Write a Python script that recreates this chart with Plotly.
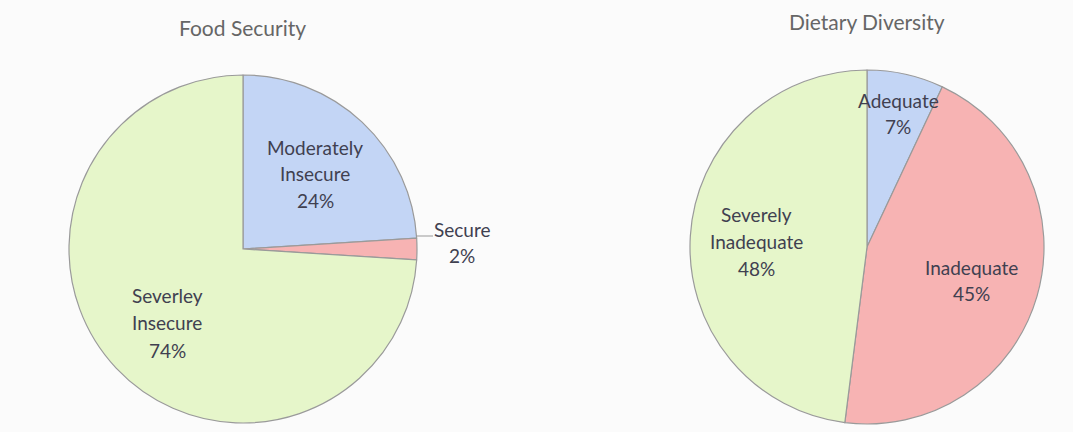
import plotly.graph_objects as go

# Data
fs_title = "Food Security"
fs_labels = ["Moderately Insecure", "Secure", "Severley Insecure"]
fs_label_lines = [["Moderately", "Insecure"], ["Secure"], ["Severley", "Insecure"]]
fs_values = [24, 2, 74]

dd_title = "Dietary Diversity"
dd_labels = ["Adequate", "Inadequate", "Severely Inadequate"]
dd_label_lines = [["Adequate"], ["Inadequate"], ["Severely", "Inadequate"]]
dd_values = [7, 45, 48]

W, H = 1073, 432
blue = "#c3d5f5"
pink = "#f7b3b3"
green = "#e6f6ca"
line_col = "#9a9a9a"

def px(x):
    return x / W

def py(y):
    return 1 - y / H

fig = go.Figure()
fig.add_trace(go.Pie(
    labels=fs_labels, values=fs_values, sort=False, direction="clockwise",
    rotation=0, textinfo="none", hoverinfo="label+percent",
    marker=dict(colors=[blue, pink, green], line=dict(color=line_col, width=1.2)),
    domain=dict(x=[px(69), px(417)], y=[py(423), py(75)]),
    showlegend=False,
))
fig.add_trace(go.Pie(
    labels=dd_labels, values=dd_values, sort=False, direction="clockwise",
    rotation=0, textinfo="none", hoverinfo="label+percent",
    marker=dict(colors=[blue, pink, green], line=dict(color=line_col, width=1.2)),
    domain=dict(x=[px(690), px(1044)], y=[py(424), py(70)]),
    showlegend=False,
))

font = dict(family="Lato, Open Sans, sans-serif", size=19, color="#404050")
title_font = dict(family="Lato, Open Sans, sans-serif", size=21, color="#666666")

annotations = [
    dict(x=px(242), y=py(28), text=fs_title, font=title_font),
    dict(x=px(867), y=py(21), text=dd_title, font=title_font),
]

# (x center, y of first line, line spacing)
fs_pos = [(315, 147, 26.5), (462, 229, 26), (167, 295, 27.5)]
dd_pos = [(898, 100, 27), (971, 267, 26.5), (756, 215, 26.5)]
for lines_, v, (x, y0, dy) in list(zip(fs_label_lines, fs_values, fs_pos)) + list(zip(dd_label_lines, dd_values, dd_pos)):
    for i, t in enumerate(lines_ + [f"{v}%"]):
        annotations.append(dict(x=px(x), y=py(y0 + i * dy), text=t, font=font))

for a in annotations:
    a.update(xref="paper", yref="paper", showarrow=False, xanchor="center", yanchor="middle")

fig.update_layout(
    width=W, height=H,
    margin=dict(l=0, r=0, t=0, b=0),
    paper_bgcolor="#fbfbfb",
    plot_bgcolor="#fbfbfb",
    annotations=annotations,
    shapes=[dict(type="line", xref="paper", yref="paper",
                 x0=px(417), y0=py(236), x1=px(433), y1=py(236),
                 line=dict(color="#999999", width=1))],
)

fig.write_html("out.html")
